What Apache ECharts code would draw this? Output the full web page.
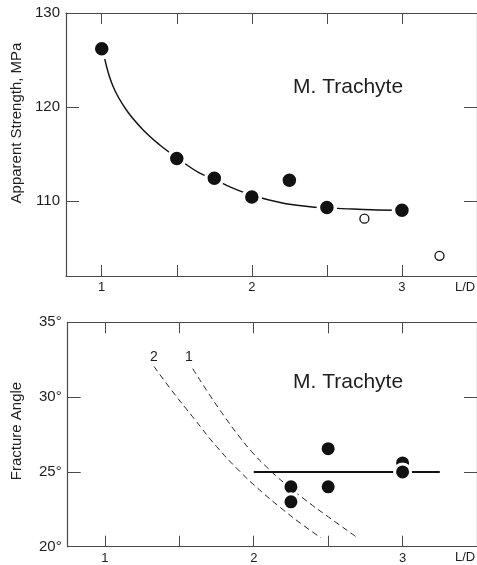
<!DOCTYPE html>
<html>
<head>
<meta charset="utf-8">
<script src="https://cdn.jsdelivr.net/npm/echarts@6/dist/echarts.min.js"></script>
<style>
html,body{margin:0;padding:0;background:#fff;}
#chart{width:477px;height:565px;}
</style>
</head>
<body>
<div id="chart"></div>
<script>
// ---- data ----
const xTickValues = [1, 1.5, 2, 2.5, 3];
const xLabelValues = [1, 2, 3];
const strengthTickValues = [110, 120, 130];
const angleTickValues = [20, 25, 30, 35];

const strengthFilled = [[1, 126.2], [1.5, 114.5], [1.75, 112.4], [2, 110.4], [2.25, 112.2], [2.5, 109.3], [3, 109.0]];
const strengthOpen = [[2.75, 108.1], [3.25, 104.15]];
const strengthCurve = [[1.02, 125.1], [1.075, 122.2], [1.163, 119.7], [1.273, 117.6], [1.383, 116.0], [1.5, 114.6],
  [1.647, 113.0], [1.75, 112.3], [1.866, 111.4], [2.0, 110.6], [2.196, 109.8], [2.373, 109.4], [2.5, 109.25],
  [2.637, 109.15], [2.8, 109.05], [2.95, 109.0]];

const angleFilled = [[2.25, 24.0], [2.25, 23.0], [2.5, 26.55], [2.5, 24.0], [3, 25.6], [3, 25.0]];
const angleMean = [[2.0, 25], [3.25, 25]];
const angleCurve1 = [[1.59, 31.9], [1.7, 30.2], [1.8, 28.75], [1.9, 27.4], [2.0, 26.2], [2.1, 25.2], [2.2, 24.3],
  [2.35, 23.1], [2.5, 22.0], [2.69, 20.65]];
const angleCurve2 = [[1.33, 32.05], [1.45, 30.43], [1.6, 28.55], [1.75, 26.7], [1.9, 25.1], [2.05, 23.7], [2.2, 22.45],
  [2.33, 21.45], [2.45, 20.6]];

// ---- styling ----
const FONT = 'Liberation Sans, Arial, sans-serif';
const AXC = '#4a4a4a';
const TXT = '#1e1e1e';

function xAx(grid, min, max, pos, showLabel) {
  return {
    gridIndex: grid, type: 'value', min: min, max: max, position: pos,
    axisLine: { show: true, onZero: false, lineStyle: { color: AXC, width: 1.2 } },
    axisTick: { show: true, inside: true, length: 11, customValues: xTickValues, lineStyle: { color: AXC, width: 1 } },
    axisLabel: { show: showLabel, customValues: xLabelValues, color: TXT, fontSize: 13, fontFamily: FONT, margin: 5 },
    splitLine: { show: false }
  };
}
function yAx(grid, min, max, pos, showLabel, ticks, fmt) {
  return {
    gridIndex: grid, type: 'value', min: min, max: max, position: pos,
    axisLine: { show: true, onZero: false, lineStyle: { color: AXC, width: 1.2 } },
    axisTick: { show: true, inside: true, length: 13, customValues: ticks, lineStyle: { color: AXC, width: 1 } },
    axisLabel: { show: showLabel, customValues: ticks, color: TXT, fontSize: 15, fontFamily: FONT, margin: 6, formatter: fmt },
    splitLine: { show: false }
  };
}

const chart = echarts.init(document.getElementById('chart'), null, { renderer: 'canvas' });
chart.setOption({
  animation: false,
  backgroundColor: '#fff',
  grid: [
    { left: 66, top: 13, width: 414.8, height: 263 },
    { left: 67.7, top: 322.3, width: 412.5, height: 224.4 }
  ],
  xAxis: [
    xAx(0, 0.762, 3.5, 'bottom', true),
    xAx(0, 0.762, 3.5, 'top', false),
    xAx(1, 0.75, 3.5, 'bottom', true),
    xAx(1, 0.75, 3.5, 'top', false)
  ],
  yAxis: [
    yAx(0, 102, 130, 'left', true, strengthTickValues, '{value}'),
    yAx(0, 102, 130, 'right', false, strengthTickValues, '{value}'),
    yAx(1, 20, 35, 'left', true, angleTickValues, '{value}°'),
    yAx(1, 20, 35, 'right', false, angleTickValues, '{value}°')
  ],
  series: [
    { type: 'line', xAxisIndex: 0, yAxisIndex: 0, data: strengthCurve, smooth: 0.4, showSymbol: false,
      lineStyle: { color: '#111', width: 1.4 }, z: 2 },
    { type: 'scatter', xAxisIndex: 0, yAxisIndex: 0, data: strengthFilled, symbol: 'circle', symbolSize: 17,
      itemStyle: { color: '#111', borderColor: '#fff', borderWidth: 3.5, opacity: 1 }, z: 3 },
    { type: 'scatter', xAxisIndex: 0, yAxisIndex: 0, data: strengthOpen, symbol: 'circle', symbolSize: 9,
      itemStyle: { color: '#fff', borderColor: '#111', borderWidth: 1.3, opacity: 1 }, z: 3 },

    { type: 'line', xAxisIndex: 2, yAxisIndex: 2, data: angleCurve1, smooth: 0.5, showSymbol: false,
      lineStyle: { color: '#222', width: 1, type: [6, 4] }, z: 2 },
    { type: 'line', xAxisIndex: 2, yAxisIndex: 2, data: angleCurve2, smooth: 0.5, showSymbol: false,
      lineStyle: { color: '#222', width: 1, type: [6, 4] }, z: 2 },
    { type: 'line', xAxisIndex: 2, yAxisIndex: 2, data: angleMean, showSymbol: false,
      lineStyle: { color: '#111', width: 2 }, z: 2 },
    { type: 'scatter', xAxisIndex: 2, yAxisIndex: 2, data: angleFilled, symbol: 'circle', symbolSize: 16,
      itemStyle: { color: '#111', borderColor: '#fff', borderWidth: 3, opacity: 1 }, z: 3 }
  ],
  graphic: [
    { type: 'text', x: 17, y: 123, rotation: Math.PI / 2,
      style: { text: 'Apparent Strength, MPa', fill: TXT, font: '15px ' + FONT, align: 'center', verticalAlign: 'middle' } },
    { type: 'text', x: 17, y: 431, rotation: Math.PI / 2,
      style: { text: 'Fracture Angle', fill: TXT, font: '15px ' + FONT, align: 'center', verticalAlign: 'middle' } },
    { type: 'text', x: 293, y: 87,
      style: { text: 'M. Trachyte', fill: TXT, font: '21px ' + FONT, align: 'left', verticalAlign: 'middle' } },
    { type: 'text', x: 293, y: 382,
      style: { text: 'M. Trachyte', fill: TXT, font: '21px ' + FONT, align: 'left', verticalAlign: 'middle' } },
    { type: 'text', x: 455, y: 287,
      style: { text: 'L/D', fill: TXT, font: '13px ' + FONT, align: 'left', verticalAlign: 'middle' } },
    { type: 'text', x: 455, y: 557,
      style: { text: 'L/D', fill: TXT, font: '13px ' + FONT, align: 'left', verticalAlign: 'middle' } },
    { type: 'text', x: 154, y: 357,
      style: { text: '2', fill: TXT, font: '14px ' + FONT, align: 'center', verticalAlign: 'middle' } },
    { type: 'text', x: 189, y: 357,
      style: { text: '1', fill: TXT, font: '14px ' + FONT, align: 'center', verticalAlign: 'middle' } }
  ]
});
</script>
</body>
</html>
